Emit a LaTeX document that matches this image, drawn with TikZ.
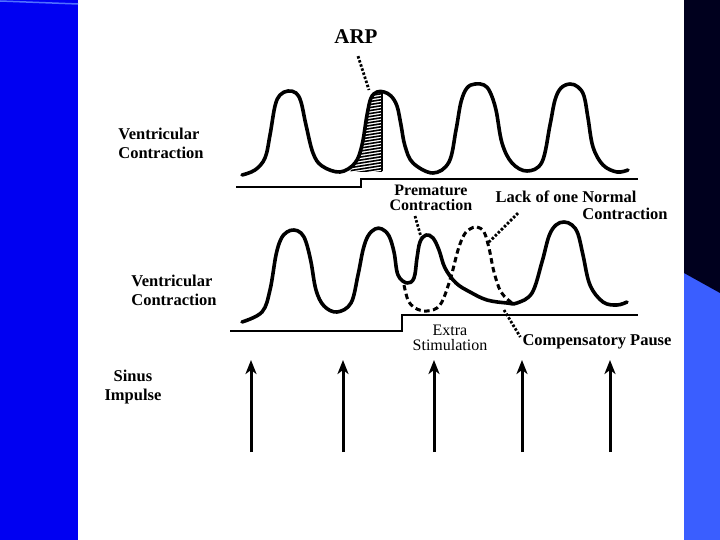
\documentclass[tikz,border=0pt]{standalone}
\usepackage{fontspec}
\setmainfont{Liberation Serif}
\usetikzlibrary{arrows.meta}
\definecolor{cBand}{HTML}{0000F2}
\definecolor{cNavy}{HTML}{00001E}
\definecolor{cSky}{HTML}{3A5EFF}
\definecolor{cEdge}{HTML}{5070FF}

\begin{document}
\begin{tikzpicture}[
    x=1pt, y=-1pt,
    lbl/.style={font=\fontsize{16.5}{19}\selectfont\bfseries, align=left, inner sep=0pt},
    lblc/.style={lbl, align=center},
    plain/.style={font=\fontsize{16}{15}\selectfont, align=center, inner sep=0pt},
    wave/.style={line width=3.6pt, line join=round, line cap=round},
    dwave/.style={line width=3pt, dash pattern=on 5.5pt off 3.5pt},
    base/.style={line width=2.8pt},
    lead/.style={line width=2.8pt, dash pattern=on 2.5pt off 1.8pt},
    imp/.style={-{Stealth[length=14pt,width=11pt,inset=4pt]}, line width=3pt}
]
\useasboundingbox (0,0) rectangle (720,540);
\fill[white] (0,0) rectangle (720,540);

% side bands
\fill[cBand] (0,0) rectangle (78,540);
\draw[cEdge, line width=1.5pt] (0,1) -- (78,4);
\fill[cSky] (684,0) rectangle (720,540);
\fill[cNavy] (684,0) -- (720,0) -- (720,293) -- (684,273) -- cycle;

% labels
\node[lbl] (vc1) at (161,143) {Ventricular\\Contraction};
\node[lbl] (vc2) at (174,290) {Ventricular\\Contraction};
\node[lblc] (sinus) at (133,387) {Sinus\\Impulse};
\node[lbl, font=\fontsize{21}{24}\selectfont\bfseries] (arp) at (356,37) {ARP};
\node[lblc, font=\fontsize{16}{15}\selectfont\bfseries] (prem) at (431,198) {Premature\\Contraction};
\node[lbl] (lack) at (566,197) {Lack of one Normal};
\node[lbl] (lack2) at (625,214) {Contraction};
\node[plain] (extra) at (450,338) {Extra\\Stimulation};
\node[lbl] (comp) at (597,342) {Compensatory Pause};

% upper trace
\draw[base] (236,187) -- (361,187) -- (361,179) -- (638,179);
\begin{scope}
  \clip (350,172) -- (355,163) -- (360,152) -- (363,140) -- (366,120) -- (369,100) -- (375,92) -- (382,92) -- (382,172) -- cycle;
  \foreach \y in {92,95,...,180}
    \draw[line width=1.6pt] (348,\y+4) -- (386,\y-2);
\end{scope}
\draw[line width=2.6pt] (382,93) -- (382,171);
\draw[wave] plot[smooth, tension=.6] coordinates {
  (242,175) (255,170) (265,158) (270,135) (275,106) (280,95) (288,91) (296,93) (301,102) (306,125)
  (313,153) (322,166) (340,172) (355,163) (362,145) (367,115) (371,98) (377,92) (384,92) (391,96)
  (397,106) (401,125) (405,146) (413,163) (433,173) (449,162) (456,130) (461,102) (467,88) (475,84)
  (484,85) (490,92) (496,110) (502,143) (512,163) (527,171) (542,162) (550,125) (555,100) (561,88)
  (570,84) (578,87) (584,96) (588,118) (593,147) (603,165) (617,172) (628,170)};

% lower trace
\draw[base] (230,331) -- (402,331) -- (402,315) -- (638,315);
\draw[wave] plot[smooth, tension=.6] coordinates {
  (242,322) (262,312) (270,290) (276,255) (281,239) (287,232) (294,230) (301,233) (306,242) (311,262)
  (316,290) (324,306) (337,312) (351,303) (358,275) (363,250) (368,236) (375,229) (382,229) (389,236)
  (394,252) (398,275) (407,283) (414,278) (417,258) (420,242) (426,235) (433,238) (439,250)
  (445,268) (456,283) (470,292) (487,300) (507,303) (517,303) (532,293) (542,262) (549,236)
  (556,225) (564,222) (572,225) (578,234) (583,255) (590,285) (603,302) (617,305) (627,302)};
\draw[dwave] plot[smooth, tension=.6] coordinates {
  (404,285) (408,300) (415,308) (427,311) (440,305) (450,280) (458,250) (464,235) (470,229)
  (477,227) (484,232) (489,248) (494,272) (501,292) (512,303)};

% leaders
\coordinate (arptip) at (369,90);
\coordinate (premtip) at (421,237);
\coordinate (lacktip) at (487,244);
\coordinate (comptail) at (504,310);
\draw[lead] ([shift={(2,12)}]arp.south) -- (arptip);
\draw[lead] ([shift={(-16,5)}]prem.south) -- (premtip);
\draw[lead] ([shift={(-48,10)}]lack.south) -- (lacktip);
\draw[lead] (comptail) -- ([shift={(-2,-5)}]comp.west);

% sinus impulses
\foreach \x [count=\i] in {251,343,434,522,610} {
  \coordinate (s\i) at (\x,452);
  \coordinate (t\i) at (\x,360);
  \draw[imp] (s\i) -- (t\i);
}
\end{tikzpicture}
\end{document}
